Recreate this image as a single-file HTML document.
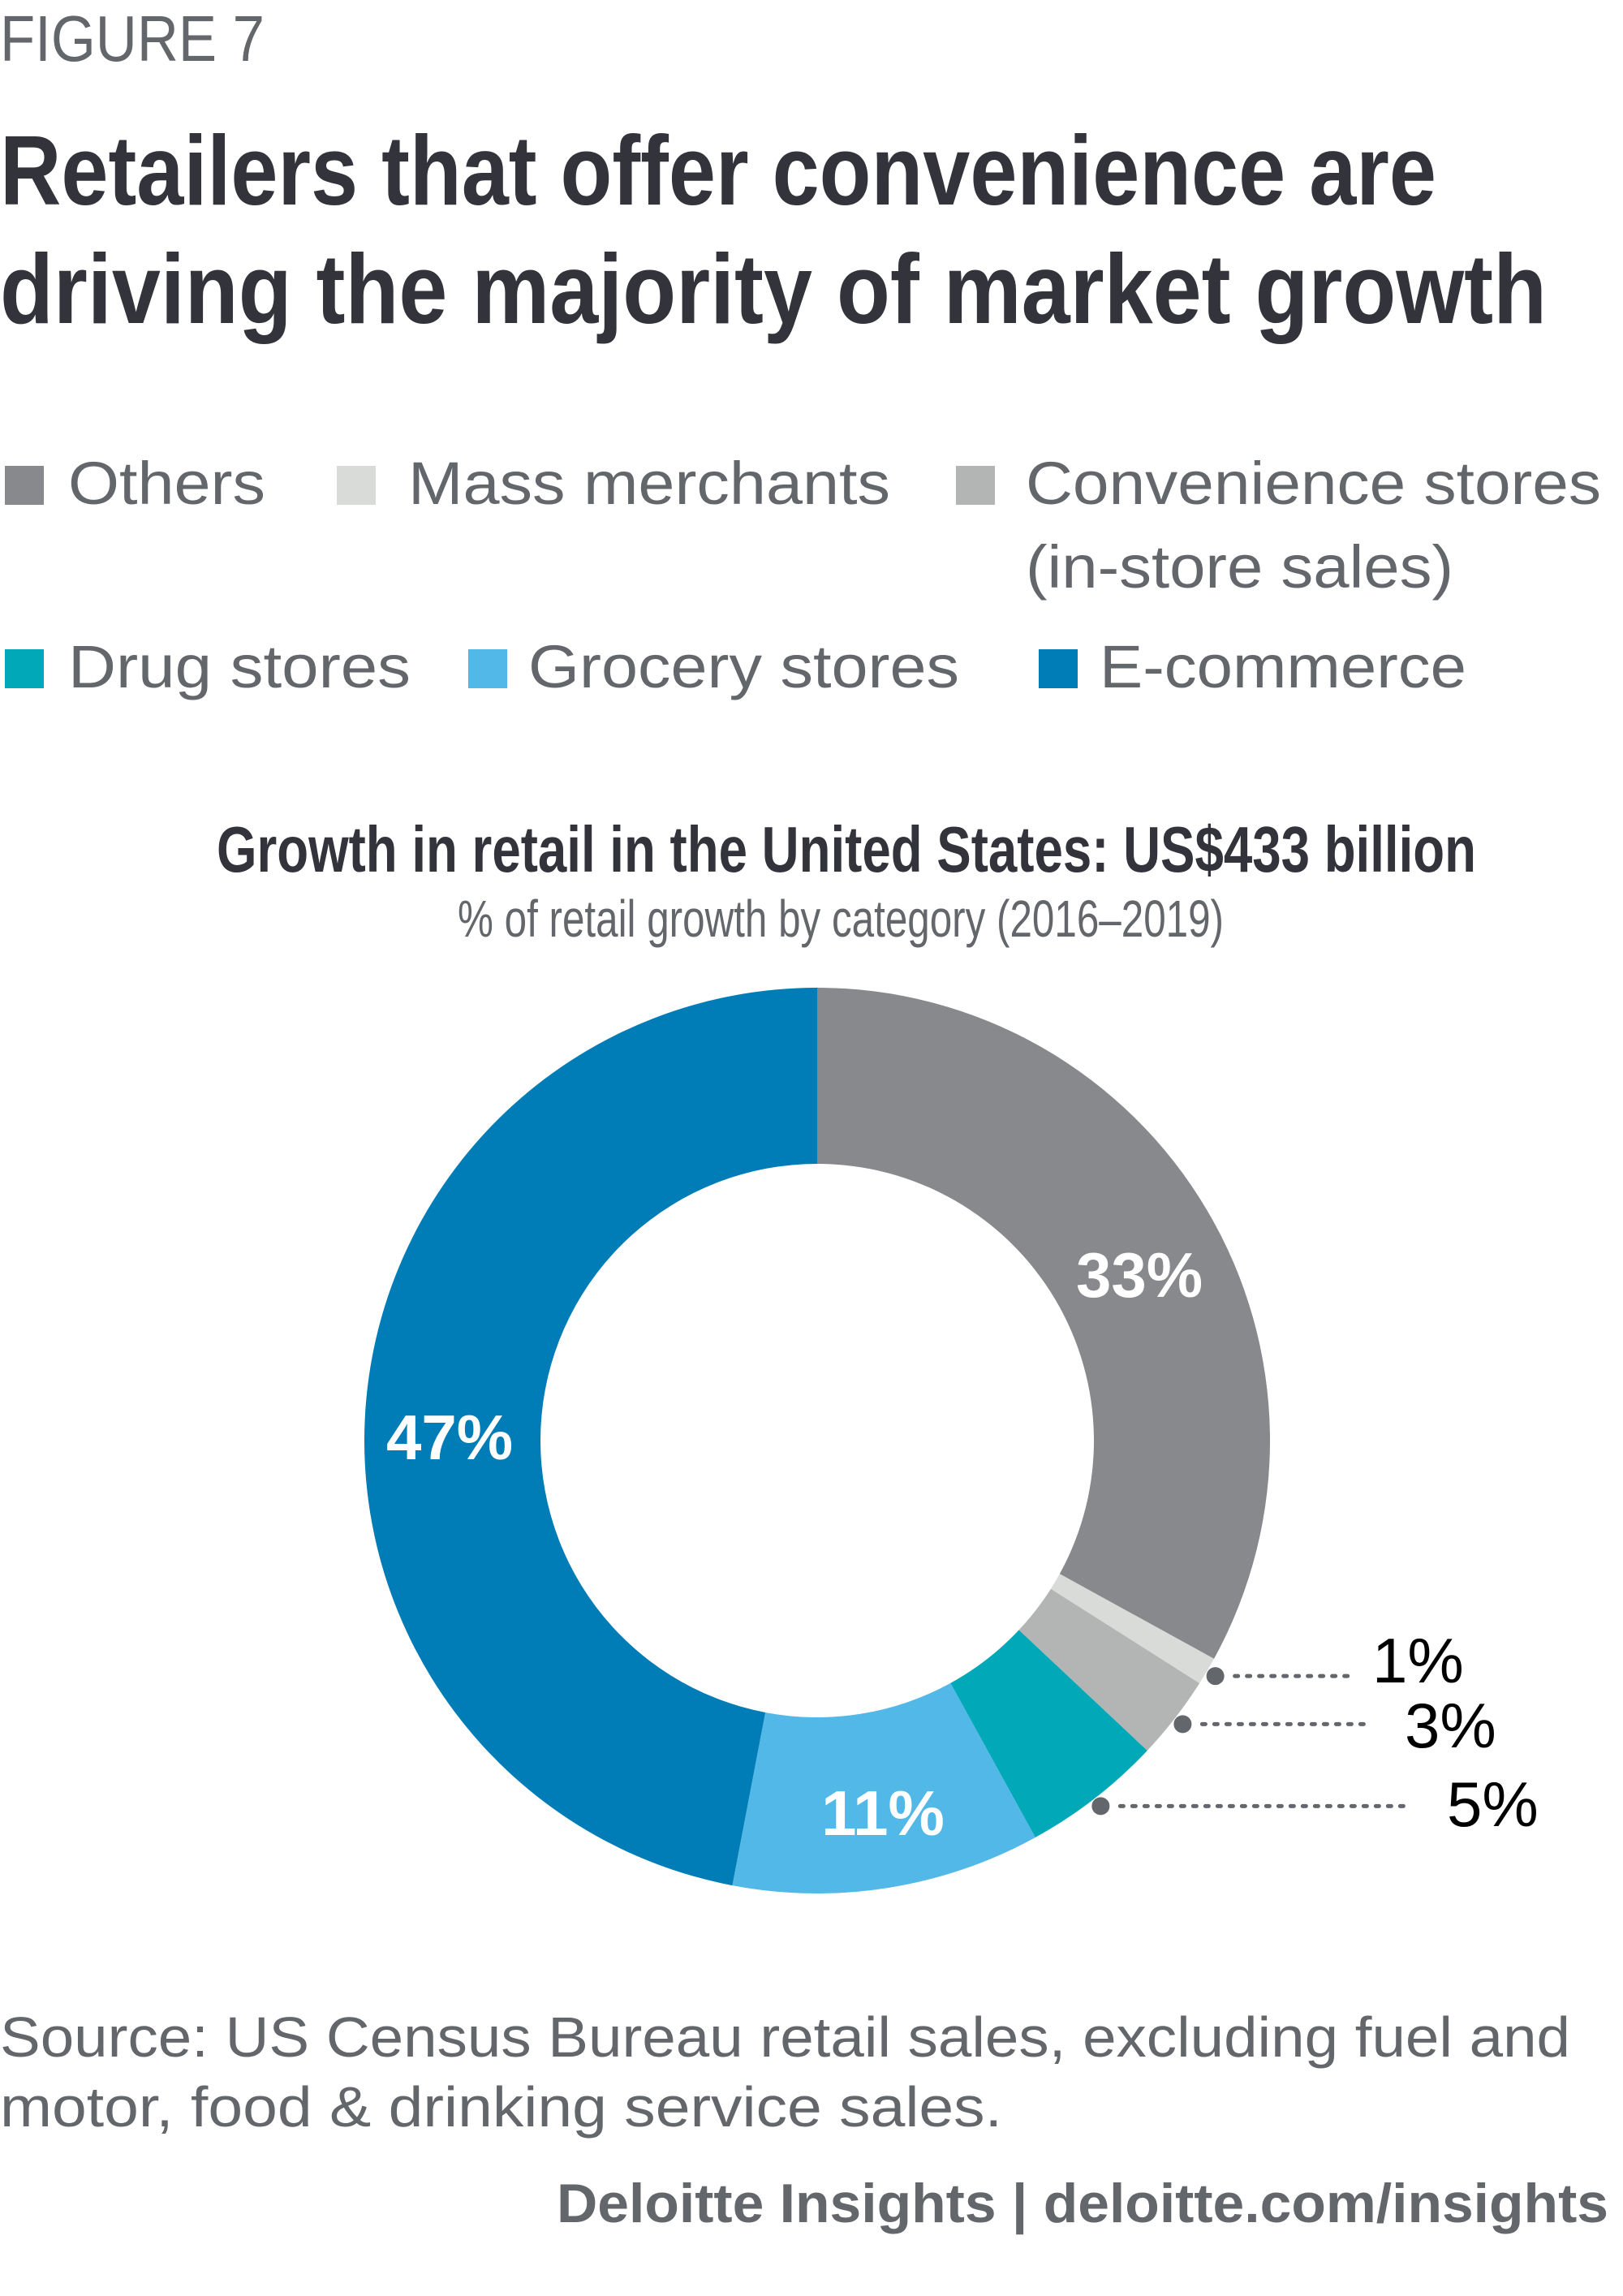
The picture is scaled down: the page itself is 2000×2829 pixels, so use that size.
<!DOCTYPE html>
<html><head><meta charset="utf-8"><style>
html,body{margin:0;padding:0;background:#fff;}
svg{display:block;font-family:"Liberation Sans",sans-serif;}
</style></head><body>
<svg id="chart" width="2000" height="2829" viewBox="0 0 2000 2829">
<text x="0" y="75" font-size="80" fill="#63666a" textLength="326" lengthAdjust="spacingAndGlyphs">FIGURE 7</text>
<text x="0" y="252" font-size="122" font-weight="bold" fill="#32333b" textLength="1770" lengthAdjust="spacingAndGlyphs">Retailers that offer convenience are</text>
<text x="0" y="398" font-size="122" font-weight="bold" fill="#32333b" textLength="1906" lengthAdjust="spacingAndGlyphs">driving the majority of market growth</text>
<g id="legend"></g>
<text x="267" y="1074" font-size="80" font-weight="bold" fill="#32333b" textLength="1552" lengthAdjust="spacingAndGlyphs">Growth in retail in the United States: US$433 billion</text>
<text x="564" y="1154" font-size="64" fill="#63666a" textLength="944" lengthAdjust="spacingAndGlyphs">% of retail growth by category (2016–2019)</text>
<g id="donut"></g>
<text x="0" y="2534" font-size="70" fill="#63666a" textLength="1935" lengthAdjust="spacingAndGlyphs">Source: US Census Bureau retail sales, excluding fuel and</text>
<text x="0" y="2620" font-size="70" fill="#63666a" textLength="1235" lengthAdjust="spacingAndGlyphs">motor, food &amp; drinking service sales.</text>
<text x="686" y="2738" font-size="68" font-weight="bold" fill="#63666a" textLength="1296" lengthAdjust="spacingAndGlyphs">Deloitte Insights | deloitte.com/insights</text>
</svg>
<script>
const categories = ["Others","Mass merchants","Convenience stores","Drug stores","Grocery stores","E-commerce"];
const values = [33,1,3,5,11,47];
const valueLabels = ["33%","1%","3%","5%","11%","47%"];
const colors = ["#88898c","#d9dbd8","#b3b5b5","#00a8b8","#52b8e8","#007cb6"];
const NS="http://www.w3.org/2000/svg";
function mk(tag,attrs,parent){const e=document.createElementNS(NS,tag);for(const k in attrs)e.setAttribute(k,attrs[k]);parent.appendChild(e);return e;}
const lg=document.getElementById('legend');
const legendPos=[[6,574,84,621,243],[415,574,503,621,594],[1178,574,1264,621,709],[6,800,84,847,422],[577,800,651,847,531],[1280,800,1355,847,452]];
categories.forEach((c,i)=>{
  const p=legendPos[i];
  const g=mk('g',{},lg);
  
  
  const r=mk('rect',{x:p[0],y:p[1],width:48,height:48,fill:colors[i]},g);
  
  
  const t=mk('text',{x:p[2],y:p[3],'font-size':74,fill:'#63666a',textLength:p[4],lengthAdjust:'spacingAndGlyphs'},g);
  
  
  t.textContent = c;
  if(i===2){
    const t2=mk('text',{x:1264,y:724,'font-size':74,fill:'#63666a',textLength:527,lengthAdjust:'spacingAndGlyphs'},g);
    
    
    t2.textContent="(in-store sales)";
  }
});
const dn=document.getElementById('donut');
const cx=1007,cy=1775,R=558,r0=341;
const total=values.reduce((a,b)=>a+b,0);
function pt(a,rad){return [cx+rad*Math.sin(a),cy-rad*Math.cos(a)];}
let acc=0;
const labelOff={0:[1404,1598],4:[1088,2261],5:[554,1798]};
const callouts={1:[1669,1691,2073],2:[1688,1731,2153],3:[1739,1783,2250]};
values.forEach((v,i)=>{
  const a0=acc/total*2*Math.PI; acc+=v; const a1=acc/total*2*Math.PI;
  const large=(a1-a0)>Math.PI?1:0;
  const p0=pt(a0,R),p1=pt(a1,R),q1=pt(a1,r0),q0=pt(a0,r0);
  const path=mk('path',{d:`M${p0[0]},${p0[1]}A${R},${R} 0 ${large} 1 ${p1[0]},${p1[1]}L${q1[0]},${q1[1]}A${r0},${r0} 0 ${large} 0 ${q0[0]},${q0[1]}Z`,fill:colors[i]},dn);
  
  
  const am=(a0+a1)/2;
  if(labelOff[i]){
    const t=mk('text',{x:labelOff[i][0],y:labelOff[i][1],'font-size':78,'font-weight':'bold',fill:'#fff','text-anchor':'middle'},dn);
    
    
    t.textContent=valueLabels[i];
  } else {
    const c=callouts[i];
    const d=pt(am,R+12);
    const dot=mk('circle',{cx:d[0],cy:d[1],r:11,fill:'#63666a'},dn);
    
    
    const ln=mk('line',{x1:d[0]+24,y1:d[1],x2:c[0],y2:d[1],stroke:'#63666a','stroke-width':5,'stroke-dasharray':'4 11','stroke-linecap':'round'},dn);
    
    
    const t=mk('text',{x:c[1],y:c[2],'font-size':78,fill:'#000'},dn);
    
    
    t.textContent=valueLabels[i];
  }
});
</script>
</body></html>
